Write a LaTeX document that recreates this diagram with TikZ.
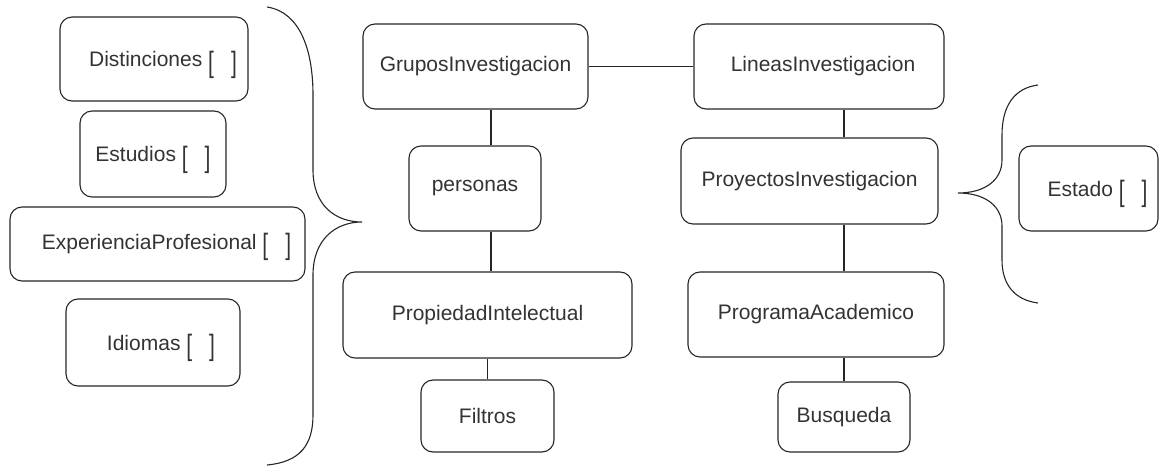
\documentclass[tikz,border=0pt]{standalone}
\usepackage{fontspec}
\setmainfont{Liberation Sans}
\newcommand\onebrk[1]{\smash{\raisebox{-5.5pt}{\scalebox{1}[1.4]{#1}}}}
\newcommand\emptybrk{\onebrk{[}\hspace{17pt}\onebrk{]}}
\begin{document}
\begin{tikzpicture}[x=1pt,y=-1pt,
  box/.style={draw=black!85, line width=1.1pt, rounded corners=12pt, inner sep=0pt,
    font=\fontsize{21}{25}\selectfont, text=black!80},
  conn/.style={draw=black!85, line width=1.1pt},
  brace/.style={draw=black!85, line width=1.1pt}]
\useasboundingbox (0,0) rectangle (1160,468);
% left column
\node[box, minimum width=188pt, minimum height=84pt] (dist) at (154,59) {\hspace*{18pt}Distinciones \emptybrk};
\node[box, minimum width=146pt, minimum height=86pt] (estu) at (153,154) {Estudios \emptybrk};
\node[box, minimum width=295pt, minimum height=74pt] (expe) at (157.5,244) {\hspace*{18pt}ExperienciaProfesional \emptybrk};
\node[box, minimum width=174pt, minimum height=87pt] (idio) at (153,342.5) {\hspace*{16pt}Idiomas \emptybrk};
% middle column
\node[box, minimum width=225pt, minimum height=85pt] (grup) at (475.5,66.5) {GruposInvestigacion};
\node[box, minimum width=132pt, minimum height=85pt] (pers) at (475,188.5) {personas};
\node[box, minimum width=289pt, minimum height=86pt] (prop) at (487.5,315) {PropiedadIntelectual};
\node[box, minimum width=133pt, minimum height=72pt] (filt) at (487.5,416) {Filtros};
% right column
\node[box, minimum width=250pt, minimum height=85pt] (line) at (819,66.5) {\hspace*{8pt}LineasInvestigacion};
\node[box, minimum width=257pt, minimum height=86pt] (proy) at (809.5,181) {ProyectosInvestigacion};
\node[box, minimum width=256pt, minimum height=85pt] (prog) at (816,314.5) {ProgramaAcademico};
\node[box, minimum width=132pt, minimum height=70pt] (busq) at (844,417) {Busqueda};
\node[box, minimum width=139pt, minimum height=85pt] (esta) at (1088.5,188.5) {\hspace*{18pt}Estado \emptybrk};
% connectors
\draw[conn] (grup.east) -- (line.west);
\draw[conn] ([xshift=15.5pt]grup.south) -- ([xshift=15.5pt]grup.south |- pers.north);
\draw[conn] ([xshift=16pt]pers.south) -- ([xshift=16pt]pers.south |- prop.north);
\draw[conn] (prop.south) -- (filt.north);
\draw[conn] (line.south -| busq.center) -- (proy.north -| busq.center);
\draw[conn] (proy.south -| busq.center) -- (prog.north -| busq.center);
\draw[conn] (prog.south -| busq.center) -- (busq.north);
% left big brace
\draw[brace] (267,7) .. controls (300,12) and (313,50) .. (313,95) -- (313,170)
  .. controls (313,205) and (335,222) .. (362,222)
  .. controls (335,222) and (313,240) .. (313,275) -- (313,415)
  .. controls (313,445) and (300,462) .. (267,465);
% right brace
\draw[brace] (1038,85) .. controls (1015,88) and (1002,105) .. (1002,135) -- (1002,160)
  .. controls (1002,180) and (985,193) .. (958,193)
  .. controls (985,193) and (1002,206) .. (1002,226) -- (1002,260)
  .. controls (1002,285) and (1015,300) .. (1038,303);
\end{tikzpicture}
\end{document}
